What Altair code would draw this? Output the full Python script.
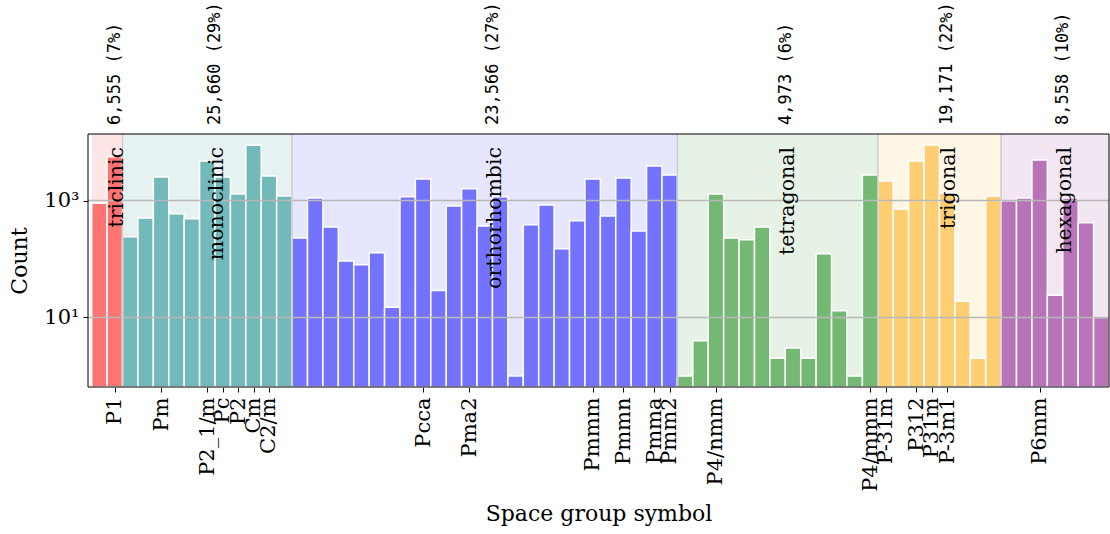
import altair as alt
import pandas as pd

# ---------------- data ----------------
systems = ["triclinic", "monoclinic", "orthorhombic", "tetragonal", "trigonal", "hexagonal"]
system_totals = ["6,555 (7%)", "25,660 (29%)", "23,566 (27%)", "4,973 (6%)", "19,171 (22%)", "8,558 (10%)"]
bar_colors = ["#FF7373", "#73B9B9", "#7373FF", "#73B973", "#FFCE73", "#B973B9"]
bg_colors = ["#FFE6E6", "#E6F2F2", "#E6E6FF", "#E6F2E6", "#FFF6E6", "#F2E6F2"]

triclinic_counts = [905, 5650]
triclinic_labels = ["", "P1"]

monoclinic_counts = [240, 506, 2540, 593, 487, 4780, 2540, 1300, 8850, 2640, 1200]
monoclinic_labels = ["", "", "Pm", "", "", "P2_1/m", "Pc", "P2", "Cm", "C2/m", ""]

orthorhombic_counts = [230, 1110, 355, 93, 80, 128, 15, 1160, 2350, 29, 810, 1590, 369,
                       1160, 1, 385, 845, 150, 450, 2350, 547, 2440, 303, 3920, 2750]
orthorhombic_labels = ["", "", "", "", "", "", "", "", "Pcca", "", "", "Pma2", "",
                       "", "", "", "", "", "", "Pmmm", "", "Pmmn", "", "Pmma", "Pmm2"]

tetragonal_counts = [1, 4, 1300, 230, 213, 355, 2, 3, 2, 123, 13, 1, 2750]
tetragonal_labels = ["", "", "P4/nmm", "", "", "", "", "", "", "", "", "", "P4/mmm"]

trigonal_counts = [2170, 720, 4780, 8960, 1330, 19, 2, 1200]
trigonal_labels = ["P-31m", "", "P312", "P31m", "P-3m1", "", "", ""]

hexagonal_counts = [990, 1110, 4970, 24, 1110, 416, 10]
hexagonal_labels = ["", "", "P6mm", "", "", "", ""]

y_ticks = [10, 1000]

all_counts = [triclinic_counts, monoclinic_counts, orthorhombic_counts,
              tetragonal_counts, trigonal_counts, hexagonal_counts]
all_labels = [triclinic_labels, monoclinic_labels, orthorhombic_labels,
              tetragonal_labels, trigonal_labels, hexagonal_labels]

# ---------------- tables ----------------
rows, sys_rows = [], []
idx = 0
for s, counts, labels, bc, bg, tot in zip(systems, all_counts, all_labels, bar_colors, bg_colors, system_totals):
    start = idx
    for c, l in zip(counts, labels):
        rows.append({"i": idx, "x0": idx - 0.5, "x1": idx + 0.5, "count": c,
                     "label": l, "system": s, "color": bc})
        idx += 1
    sys_rows.append({"system": s, "start": start - 0.5, "end": idx - 0.5,
                     "center": (start + idx - 1) / 2.0, "bg": bg, "total": tot})

bars_df = pd.DataFrame(rows)
sys_df = pd.DataFrame(sys_rows)
sep_df = sys_df.iloc[1:][["start"]]
grid_df = pd.DataFrame({"v": y_ticks})
frame_df = pd.DataFrame({"a": [0]})

n = len(rows)
tick_values = [r["i"] for r in rows if r["label"]]
label_array = "[" + ",".join("'" + r["label"] + "'" for r in rows) + "]"

W, H = 1021, 253
xscale = alt.Scale(domain=[-0.74, n - 0.5], nice=False, zero=False)
yscale = alt.Scale(type="log", domain=[0.646, 13800], nice=False, zero=False)
SERIF = "DejaVu Serif"

x_axis = alt.Axis(values=tick_values, labelExpr=label_array + "[datum.value]",
                  labelAngle=270, labelAlign="right", labelBaseline="middle",
                  labelFont=SERIF, labelFontSize=21, labelColor="black",
                  labelOverlap=False, labelFlush=False, labelBound=False,
                  labelPadding=5, tickSize=5, tickColor="black", tickWidth=1,
                  domain=False, grid=False,
                  title="Space group symbol", titleFont=SERIF, titleFontSize=22,
                  titleFontWeight="normal", titleColor="black",
                  titleBaseline="alphabetic", titleY=133)

y_axis = alt.Axis(values=y_ticks,
                  labelExpr="datum.value == 1000 ? '10³' : '10¹'",
                  labelFont=SERIF, labelFontSize=21, labelColor="black",
                  labelPadding=4, tickSize=5, tickColor="black", tickWidth=1,
                  domain=False, grid=False,
                  title="Count", titleFont=SERIF, titleFontSize=22,
                  titleFontWeight="normal", titleColor="black",
                  titleX=-69, titleBaseline="middle")

bg = alt.Chart(sys_df).mark_rect().encode(
    x=alt.X("start:Q", scale=xscale, axis=x_axis),
    x2="end:Q",
    y=alt.value(0),
    y2=alt.value(H),
    fill=alt.Fill("bg:N", scale=None),
)

bars = alt.Chart(bars_df).mark_rect(stroke="white", strokeWidth=1.5).encode(
    x=alt.X("x0:Q", scale=xscale, axis=x_axis),
    x2="x1:Q",
    y=alt.Y("count:Q", scale=yscale, axis=y_axis),
    y2=alt.value(H),
    fill=alt.Fill("color:N", scale=None),
)

grid = alt.Chart(grid_df).mark_rule(color="#b8b8b8", strokeWidth=1.5).encode(
    y=alt.Y("v:Q", scale=yscale, axis=y_axis)
)

seps = alt.Chart(sep_df).mark_rule(color="#cccccc", strokeWidth=1.5).encode(
    x=alt.X("start:Q", scale=xscale, axis=x_axis),
    y=alt.value(0),
    y2=alt.value(H),
)

sys_text = alt.Chart(sys_df).mark_text(
    angle=270, align="right", baseline="top", font=SERIF, fontSize=20.5, color="black"
).encode(x=alt.X("center:Q", scale=xscale, axis=x_axis), y=alt.value(13), text="system:N")

tot_text = alt.Chart(sys_df).mark_text(
    angle=270, align="left", baseline="top", font="DejaVu Sans Mono", fontSize=17, color="black"
).encode(x=alt.X("center:Q", scale=xscale, axis=x_axis), y=alt.value(-9), text="total:N")

frame = alt.Chart(frame_df).mark_rect(filled=False, stroke="black", strokeWidth=1).encode(
    x=alt.value(0), x2=alt.value(W), y=alt.value(0), y2=alt.value(H)
)

chart = alt.layer(bg, bars, grid, seps, sys_text, tot_text, frame).properties(
    width=W, height=H,
    autosize=alt.AutoSizeParams(type="none"),
    padding={"left": 88, "top": 134, "right": 1, "bottom": 147},
    background="white",
).configure_view(stroke=None)

chart.save("out.html", embed_options={"renderer": "svg", "actions": False})
